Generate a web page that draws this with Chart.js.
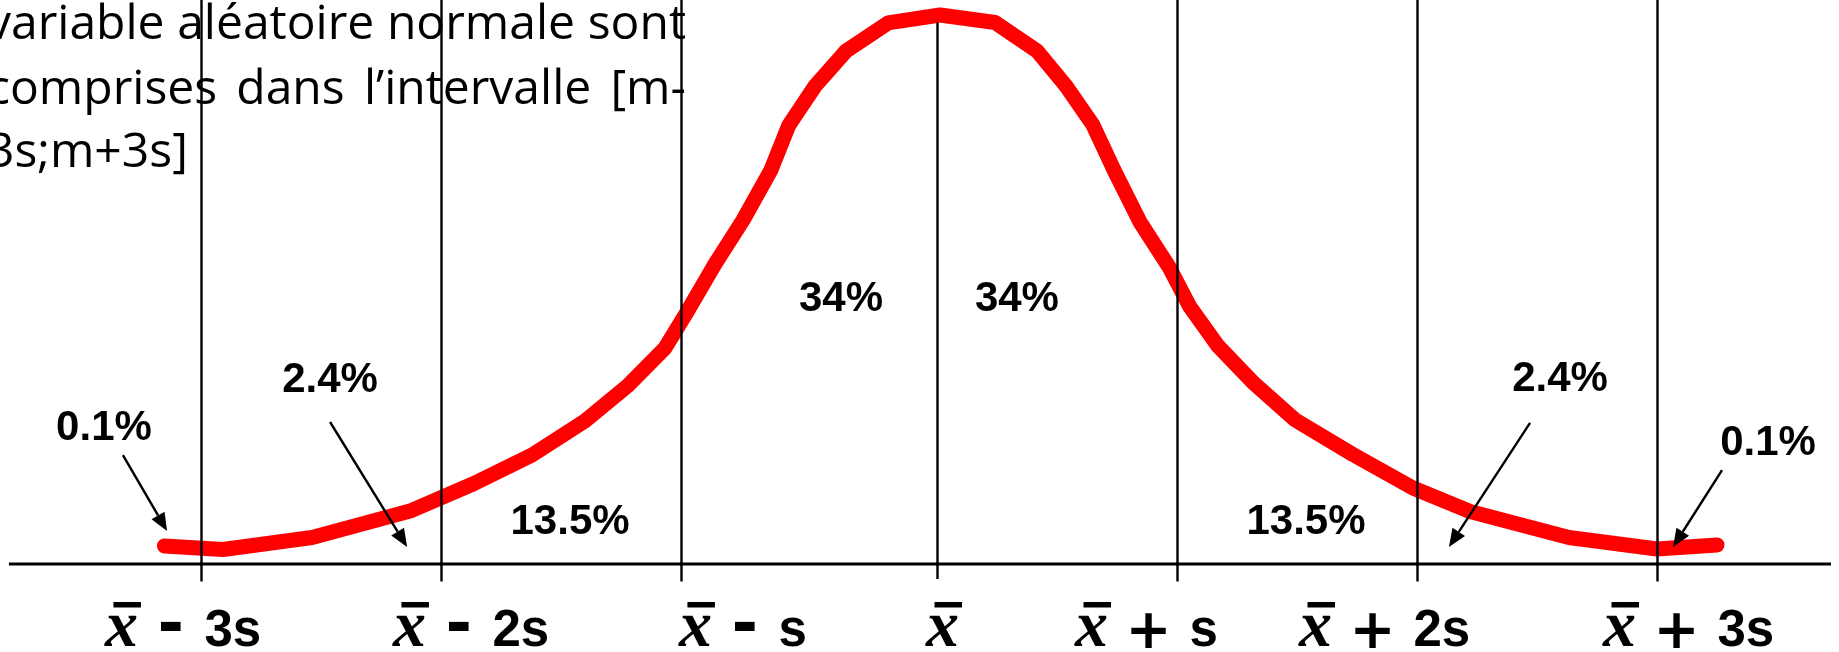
<!DOCTYPE html>
<html lang="fr">
<head>
<meta charset="utf-8">
<title>Loi normale – répartition autour de la moyenne</title>
<script src="https://cdn.jsdelivr.net/npm/chart.js@4.4.1/dist/chart.umd.min.js"></script>
<style>
  html, body { margin: 0; padding: 0; background: #ffffff; }
  #wrap { position: relative; width: 1839px; height: 652px; overflow: hidden; }
</style>
</head>
<body>
<div id="wrap"><canvas id="bell"></canvas></div>
<script>
// ---- data -------------------------------------------------------------
// curve vertices: x in units of s around the mean, y as density
const curveX = [-3.219, -2.975, -2.604, -2.196, -1.929, -1.6875, -1.467, -1.2875, -1.133, -1.042,
                -0.925, -0.808, -0.692, -0.617, -0.508, -0.379, -0.204, 0.0125, 0.242, 0.417,
                0.5375, 0.65, 0.7375, 0.846, 0.967, 1.054, 1.171, 1.321, 1.492, 1.733,
                1.983, 2.221, 2.633, 3.0, 3.25];
const curveY = [0.0131, 0.0105, 0.0193, 0.0385, 0.0585, 0.0792, 0.1039, 0.1297, 0.1570, 0.1831,
                0.2180, 0.2500, 0.2863, 0.3190, 0.3474, 0.3728, 0.3932, 0.3990, 0.3935, 0.3728,
                0.3474, 0.3190, 0.2863, 0.2485, 0.2158, 0.1868, 0.1584, 0.1312, 0.1047, 0.0796,
                0.0552, 0.0382, 0.0193, 0.0109, 0.0138];

// axis marks and their labels
const tickValues = [-3.067, -2.067, -1.067, 0, 1, 2, 3];
const tickLabels = ['x̄ - 3s', 'x̄ - 2s', 'x̄ - s', 'x̄', 'x̄ + s', 'x̄ + 2s', 'x̄ + 3s'];

// share of the population in each band
const shareLabels = ['0.1%', '2.4%', '13.5%', '34%', '34%', '13.5%', '2.4%', '0.1%'];

// caption lines
const captionLines = ['variable aléatoire normale sont', 'comprises dans l’intervalle [m-', '3s;m+3s]'];

// ---- layout -------------------------------------------------------------
const X_MIN = -3.9042, X_MAX = 3.7583;   // s units across the canvas
const Y_MIN = -0.06395, Y_MAX = 0.40988;  // density range down/up the canvas
const AXIS_FROM = -3.867, AXIS_TO = 3.725;
const labelShift = [-97, -49, -3, -12, -103, -119, -55];
const sharePos = [[-3.471, 0.1010], [-2.529, 0.1359], [-1.529, 0.0327], [-0.40, 0.1948],
                  [0.333, 0.1948], [1.5375, 0.0327], [2.596, 0.1366], [3.4625, 0.0901]];
const arrowPos = [[-3.392, 0.0792, -3.208, 0.0240], [-2.529, 0.1032, -2.208, 0.0124],
                  [2.471, 0.1025, 2.133, 0.0124], [3.271, 0.0683, 3.067, 0.0124]];
const CURVE_WIDTH = 15;
const CAPTION_BASELINES = [39, 104, 167];

function arrow(ctx, x1, y1, x2, y2) {
  const a = Math.atan2(y2 - y1, x2 - x1);
  const len = 18, half = 7.5;
  const bx = x2 - len * Math.cos(a), by = y2 - len * Math.sin(a);
  ctx.beginPath();
  ctx.moveTo(x1, y1);
  ctx.lineTo(bx, by);
  ctx.stroke();
  ctx.beginPath();
  ctx.moveTo(x2, y2);
  ctx.lineTo(bx + half * Math.sin(a), by - half * Math.cos(a));
  ctx.lineTo(bx - half * Math.sin(a), by + half * Math.cos(a));
  ctx.closePath();
  ctx.fill();
}

function drawJustified(ctx, text, left, right, baseline) {
  const words = text.split(' ');
  const widths = words.map(w => ctx.measureText(w).width);
  const total = widths.reduce((a, b) => a + b, 0);
  const gap = Math.max(ctx.measureText(' ').width, (right - left - total) / (words.length - 1));
  let x = left;
  words.forEach((w, i) => { ctx.fillText(w, x, baseline); x += widths[i] + gap; });
}

const decor = {
  id: 'bellDecor',
  beforeDatasetsDraw(chart) {
    const ctx = chart.ctx;
    ctx.save();
    ctx.fillStyle = '#000';
    ctx.font = '48px "Open Sans"';
    ctx.textAlign = 'left';
    ctx.textBaseline = 'alphabetic';
    const left = -13, right = 686;
    drawJustified(ctx, captionLines[0], left, right, CAPTION_BASELINES[0]);
    drawJustified(ctx, captionLines[1], left, right, CAPTION_BASELINES[1]);
    ctx.fillText(captionLines[2], left, CAPTION_BASELINES[2]);
    ctx.restore();
  },
  afterDatasetsDraw(chart) {
    const ctx = chart.ctx;
    const xs = chart.scales.x, ys = chart.scales.y;
    const area = chart.chartArea;
    const axisY = ys.getPixelForValue(0);
    const peak = Math.max(...curveY);
    ctx.save();
    ctx.strokeStyle = '#000';
    ctx.fillStyle = '#000';

    // vertical marks
    ctx.lineWidth = 2.4;
    tickValues.forEach((v) => {
      const px = Math.round(xs.getPixelForValue(v)) + 0.5;
      const top = v === 0 ? ys.getPixelForValue(peak) + CURVE_WIDTH / 2 : area.top;
      const bottom = axisY + (v === 0 ? 15 : 17.5);
      ctx.beginPath();
      ctx.moveTo(px, top);
      ctx.lineTo(px, bottom);
      ctx.stroke();
    });

    // horizontal axis
    ctx.lineWidth = 3;
    ctx.beginPath();
    ctx.moveTo(xs.getPixelForValue(AXIS_FROM), axisY);
    ctx.lineTo(xs.getPixelForValue(AXIS_TO), axisY);
    ctx.stroke();

    // arrows
    ctx.lineWidth = 2.4;
    arrowPos.forEach(p => {
      arrow(ctx, xs.getPixelForValue(p[0]), ys.getPixelForValue(p[1]),
                 xs.getPixelForValue(p[2]), ys.getPixelForValue(p[3]));
    });

    // band shares
    ctx.font = 'bold 42px "Liberation Sans", Arial, sans-serif';
    ctx.textAlign = 'center';
    ctx.textBaseline = 'alphabetic';
    shareLabels.forEach((t, i) => {
      const cx = xs.getPixelForValue(sharePos[i][0]);
      const cy = ys.getPixelForValue(sharePos[i][1]);
      ctx.fillText(t, cx, cy + 15);
    });

    // axis labels: italic x with bar, operator, multiple of s
    const base = 646;
    ctx.textAlign = 'left';
    tickLabels.forEach((lab, i) => {
      const parts = lab.split(' ');
      const L = xs.getPixelForValue(tickValues[i]) + labelShift[i];
      ctx.font = 'bold italic 66px "Liberation Serif", "Times New Roman", serif';
      const mx = ctx.measureText('x');
      ctx.fillText('x', L + mx.actualBoundingBoxLeft, base);
      ctx.fillRect(L + 9.5, 602, 27.5, 5.5);
      if (parts.length < 3) return;
      const op = parts[1];
      ctx.font = op === '+' ? 'bold 55px "DejaVu Sans"' : 'bold 64px "DejaVu Sans"';
      const mo = ctx.measureText(op);
      const opLeft = L + 56.5;
      const opCy = op === '+' ? 630 : 625.5;
      const opBase = opCy + (mo.actualBoundingBoxAscent - mo.actualBoundingBoxDescent) / 2;
      ctx.fillText(op, opLeft + mo.actualBoundingBoxLeft, opBase);
      const opRight = opLeft + mo.actualBoundingBoxLeft + mo.actualBoundingBoxRight;
      ctx.font = 'bold 51px "Liberation Sans", Arial, sans-serif';
      const mn = ctx.measureText(parts[2]);
      ctx.fillText(parts[2], opRight + 24 + mn.actualBoundingBoxLeft, base);
    });
    ctx.restore();
  }
};

new Chart(document.getElementById('bell'), {
  type: 'scatter',
  data: {
    datasets: [{
      data: curveX.map((x, i) => ({ x, y: curveY[i] })),
      showLine: true,
      borderColor: '#ff0000',
      backgroundColor: '#ff0000',
      borderWidth: CURVE_WIDTH,
      borderCapStyle: 'round',
      borderJoinStyle: 'round',
      tension: 0,
      pointRadius: 0,
      pointHoverRadius: 0,
      clip: false
    }]
  },
  options: {
    responsive: true,
    maintainAspectRatio: false,
    animation: false,
    layout: { padding: 0 },
    events: [],
    plugins: { legend: { display: false }, tooltip: { enabled: false } },
    scales: {
      x: { type: 'linear', min: X_MIN, max: X_MAX, display: false },
      y: { type: 'linear', min: Y_MIN, max: Y_MAX, display: false }
    }
  },
  plugins: [decor]
});
</script>
</body>
</html>
